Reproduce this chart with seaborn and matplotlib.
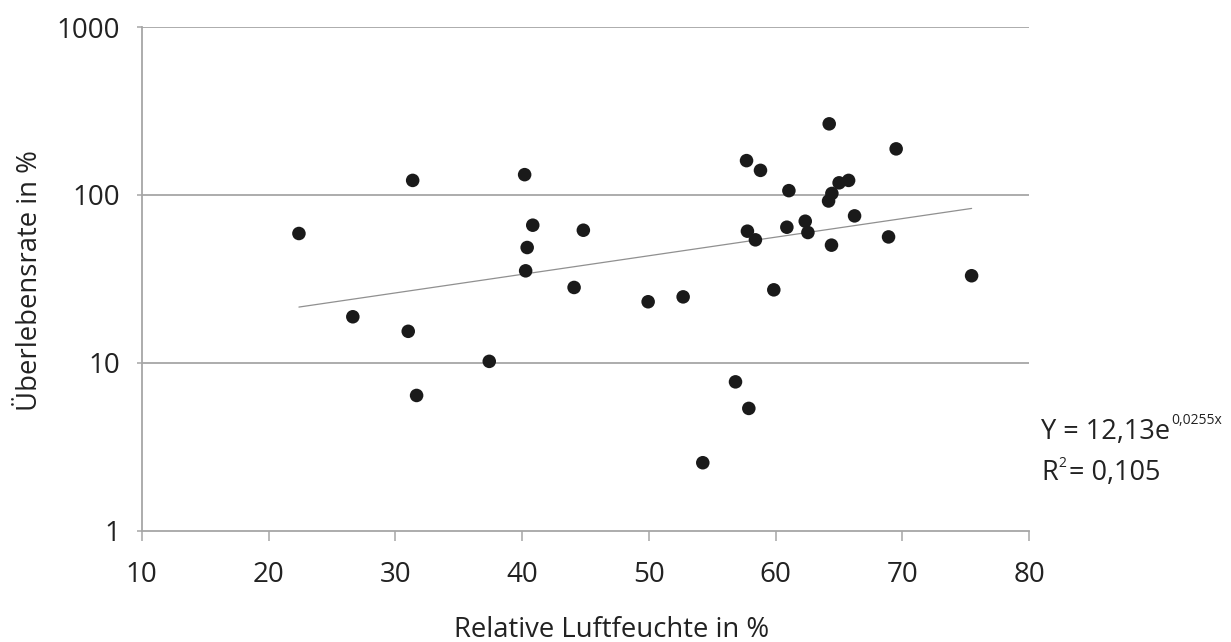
import numpy as np
import pandas as pd
import matplotlib
matplotlib.use("Agg")
import matplotlib.pyplot as plt
import seaborn as sns

# Relative humidity (%) and survival rate (%) per sample
humidity = [22.4, 26.65, 31.37, 31.02, 31.68, 37.41, 40.2, 40.84, 40.4, 40.28,
            44.83, 44.1, 49.94, 52.7, 54.25, 56.83, 57.88, 57.7, 58.8, 57.77,
            58.4, 59.85, 60.88, 61.04, 62.33, 62.54, 64.22, 64.17, 64.43, 64.4,
            65.0, 65.75, 66.22, 68.9, 69.5, 75.45]
survival = [58.9, 18.8, 122, 15.4, 6.39, 10.2, 132, 66, 48.6, 35.3,
            61.6, 28.1, 23.1, 24.7, 2.54, 7.7, 5.35, 160, 140, 60.8,
            54, 27.2, 64.2, 106, 69.7, 59.7, 265, 92, 102, 50.2,
            118, 122, 75, 56.2, 188, 33]

# Exponential trend: Y = a * e^(b x)
fit_a = 12.13
fit_b = 0.0255
fit_r2 = 0.105

x_ticks = [10, 20, 30, 40, 50, 60, 70, 80]
y_ticks = [1, 10, 100, 1000]

x_label = "Relative Luftfeuchte in %"
y_label = "Überlebensrate in %"

sns.set_theme(style="white")
plt.rcParams["font.family"] = ["Open Sans", "DejaVu Sans"]

text_col = "#222222"
grid_col = "#a6a6a6"
W, H = 1231, 642

fig = plt.figure(figsize=(W / 100, H / 100), dpi=100)
ax = fig.add_axes([141.7 / W, 1 - 530.7 / H, (1029.3 - 141.7) / W,
                   (530.7 - 27) / H])

df = pd.DataFrame({"x": humidity, "y": survival})
trend_x = np.linspace(min(humidity), max(humidity), 200)
trend = pd.DataFrame({"x": trend_x, "y": fit_a * np.exp(fit_b * trend_x)})

ax.set_yscale("log")
for v in y_ticks[1:]:
    ax.axhline(v, color=grid_col, lw=1.3, zorder=0)

sns.lineplot(data=trend, x="x", y="y", ax=ax, color="#909090", lw=0.9, zorder=2)
sns.scatterplot(data=df, x="x", y="y", ax=ax, s=95, color="#1a1a1a",
                edgecolor="none", zorder=3)

ax.set_xlim(10, 80)
ax.set_ylim(1, 1000)
ax.set_xticks(x_ticks)
ax.set_xticklabels([str(t) for t in x_ticks])
ax.set_yticks(y_ticks)
ax.set_yticklabels([str(t) for t in y_ticks])
ax.minorticks_off()

for side in ["top", "right"]:
    ax.spines[side].set_visible(False)
for side in ["left", "bottom"]:
    ax.spines[side].set_color(grid_col)
    ax.spines[side].set_linewidth(1.3)

ax.tick_params(axis="x", direction="out", length=7, width=1.1, color=grid_col,
               labelsize=20, labelcolor=text_col, pad=14.5, bottom=True)
ax.tick_params(axis="y", direction="out", length=3.6, width=1.1, color=grid_col,
               labelsize=20, labelcolor=text_col, pad=12, left=True)

ax.set_xlabel("")
ax.set_ylabel("")
fig.text(612 / W, 1 - 630 / H, x_label, ha="center", va="center",
         fontsize=19.8, color=text_col)
fig.text(30 / W, 1 - 281 / H, y_label, ha="center", va="center",
         rotation=90, fontsize=19.8, color=text_col)

# Trend equation with superscripts
fig.canvas.draw()
renderer = fig.canvas.get_renderer()
eq1 = fig.text(1041 / W, 1 - 439 / H, "Y = 12,13e", ha="left",
               va="baseline", fontsize=19.5, color=text_col)
bb = eq1.get_window_extent(renderer)
fig.text((bb.x1 + 1) / W, 1 - 424 / H, "0,0255x", ha="left",
         va="baseline", fontsize=10, color=text_col)

r1 = fig.text(1041 / W, 1 - 480 / H, "R", ha="left", va="baseline",
              fontsize=19.5, color=text_col)
bb = r1.get_window_extent(renderer)
r2 = fig.text((bb.x1 + 1) / W, 1 - 467 / H, "2", ha="left",
              va="baseline", fontsize=10, color=text_col)
bb2 = r2.get_window_extent(renderer)
fig.text((bb2.x1 + 2) / W, 1 - 480 / H,
         "= " + f"{fit_r2:.3f}".replace(".", ","), ha="left", va="baseline",
         fontsize=19.5, color=text_col)

fig.savefig("out.png", dpi=100, facecolor="white")
